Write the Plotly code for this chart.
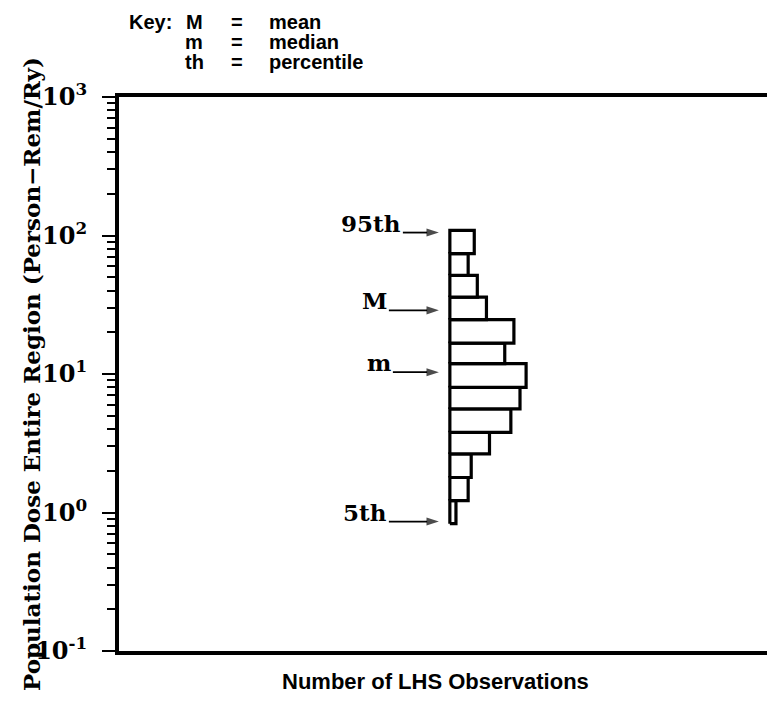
import math
import plotly.graph_objects as go

# Histogram of population dose over the LHS sample (person-rem per reactor-year)
bin_edges = [0.83, 1.22, 1.79, 2.65, 3.79, 5.6, 8.0, 11.9, 16.7, 24.7, 35.9, 51.6, 74.0, 109.0]
bin_counts = [2, 6, 7, 13, 20, 23, 25, 18, 21, 12, 9, 6, 8]

# Summary statistics pointed at beside the histogram
stat_labels = ["95th", "M", "m", "5th"]
stat_values = [105.0, 28.8, 10.3, 0.86]

# Key entries
key_symbols = ["M", "m", "th"]
key_meanings = ["mean", "median", "percentile"]

# Log axis decades and their labels
tick_values = [0.1, 1, 10, 100, 1000]
tick_labels = ["10<sup>-1</sup>", "10<sup>0</sup>", "10<sup>1</sup>", "10<sup>2</sup>", "10<sup>3</sup>"]
minor_values = [m * d for d in (0.1, 1, 10, 100) for m in range(2, 10)]

# Page geometry (pixels)
W, H = 767, 719
L, R, T, B = 119, 0, 97, 68
PW, PH = W - L - R, H - T - B
X_MIN, X_MAX = -108.5, 104.0
PX_PER_COUNT = PW / (X_MAX - X_MIN)


def px(x):
    return (x - L) / PW


def py(y):
    return (H - B - y) / PH


SERIF = "DejaVu Serif"
SANS = "Liberation Sans"

fig = go.Figure()

# One outlined box per bin, drawn from the common baseline at zero
for lo, hi, c in zip(bin_edges[:-1], bin_edges[1:], bin_counts):
    fig.add_trace(go.Scatter(
        x=[0, c, c, 0, 0], y=[lo, lo, hi, hi, lo],
        mode="lines", fill="toself", fillcolor="white",
        line=dict(color="black", width=3.2),
        hoverinfo="skip", showlegend=False,
    ))

annotations = []

# Arrows pointing at each statistic, with the label sitting on the shaft
tip_x = -3.6
arrow_len = [36, 50, 46, 50]
for lab, val, alen in zip(stat_labels, stat_values, arrow_len):
    tail_x = tip_x - alen / PX_PER_COUNT
    fig.add_trace(go.Scatter(
        x=[tail_x, tip_x], y=[val, val], mode="lines+markers",
        line=dict(color="black", width=1.8),
        marker=dict(symbol=["circle", "arrow"], size=[0, 13],
                    angleref="previous", color="black",
                    line=dict(width=0)),
        hoverinfo="skip", showlegend=False,
    ))
    annotations.append(dict(
        x=tail_x, y=math.log10(val), xref="x", yref="y", text=lab,
        showarrow=False, xanchor="right", yanchor="bottom", yshift=-6,
        font=dict(family=SERIF, size=23, color="black", weight="bold"),
    ))

# Key in the top-left corner
key_font = dict(family=SANS, size=20, color="black", weight="bold")
annotations.append(dict(x=px(174), y=py(22), xref="paper", yref="paper",
                        text="Key:", showarrow=False,
                        xanchor="right", yanchor="middle", font=key_font))
for i, (sym, meaning) in enumerate(zip(key_symbols, key_meanings)):
    yy = py(22 + 20 * i)
    annotations.append(dict(x=px(194), y=yy, xref="paper", yref="paper",
                            text=sym, showarrow=False,
                            xanchor="center", yanchor="middle", font=key_font))
    annotations.append(dict(x=px(237), y=yy, xref="paper", yref="paper",
                            text="=", showarrow=False,
                            xanchor="center", yanchor="middle", font=key_font))
    annotations.append(dict(x=px(267), y=yy, xref="paper", yref="paper",
                            text=meaning, showarrow=False,
                            xanchor="left", yanchor="middle", font=key_font))

# Axis titles
annotations.append(dict(x=px(31), y=py(374), xref="paper", yref="paper",
                        text="Population Dose Entire Region (Person\u2212Rem/Ry)",
                        textangle=-90, showarrow=False,
                        xanchor="center", yanchor="middle",
                        font=dict(family=SERIF, size=23, color="black", weight="bold")))
annotations.append(dict(x=px(435), y=py(681), xref="paper", yref="paper",
                        text="Number of LHS Observations", showarrow=False,
                        xanchor="center", yanchor="middle",
                        font=dict(family=SANS, size=22, color="black", weight="bold")))

fig.update_layout(
    width=W, height=H,
    margin=dict(l=L, r=R, t=T, b=B, pad=0),
    paper_bgcolor="white", plot_bgcolor="white",
    showlegend=False,
    annotations=annotations,
    xaxis=dict(
        range=[X_MIN, X_MAX], showgrid=False, zeroline=False,
        showticklabels=False, ticks="",
        showline=True, linecolor="black", linewidth=4, mirror=True,
        fixedrange=True,
    ),
    yaxis=dict(
        type="log", range=[-1, 3], showgrid=False, zeroline=False,
        showline=True, linecolor="black", linewidth=4, mirror=False,
        tickmode="array", tickvals=tick_values, ticktext=tick_labels,
        ticks="outside", ticklen=13, tickwidth=2, tickcolor="black",
        ticklabelstandoff=10,
        tickfont=dict(family=SERIF, size=24, color="black", weight="bold"),
        minor=dict(tickmode="array", tickvals=minor_values, ticks="outside",
                   ticklen=8, tickwidth=2, tickcolor="black", showgrid=False),
        fixedrange=True,
    ),
)

fig.write_html("out.html")
